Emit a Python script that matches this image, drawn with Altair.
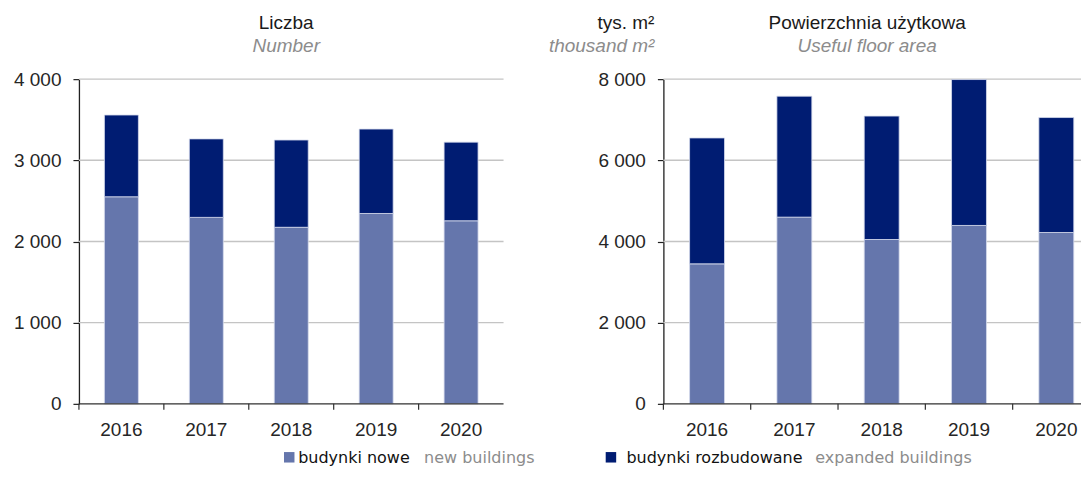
import altair as alt
import pandas as pd

# ---- data ----
years = ["2016", "2017", "2018", "2019", "2020"]
series_pl = ["budynki nowe", "budynki rozbudowane"]
series_en = ["new buildings", "expanded buildings"]
count_new = [2551, 2297, 2175, 2345, 2255]
count_expanded = [1007, 967, 1075, 1040, 969]
area_new = [3449, 4600, 4049, 4395, 4222]
area_expanded = [3102, 2980, 3041, 3595, 2832]
left_ticks = [0, 1000, 2000, 3000, 4000]
right_ticks = [0, 2000, 4000, 6000, 8000]
left_title = ["Liczba", "Number"]
right_title = ["Powierzchnia użytkowa", "Useful floor area"]
right_unit = ["tys. m²", "thousand m²"]

colors = ["#6576ac", "#001c72"]
FONT = "Liberation Sans"
LEG_FONT = "DejaVu Sans"
W_L, W_R, H = 425, 418, 325
RANGE_R = 437
LEG_Y = 384
T1, T2 = -50, -27


def frame(new, exp):
    rows = []
    for i, y in enumerate(years):
        rows.append({"rok": y, "seria": series_pl[0], "kolejnosc": 0, "wartosc": new[i]})
        rows.append({"rok": y, "seria": series_pl[1], "kolejnosc": 1, "wartosc": exp[i]})
    return pd.DataFrame(rows)


def text_layer(txt, x, y, size=19, color="#1a1a1a", italic=False, align="center", font=FONT):
    return alt.Chart(pd.DataFrame({"t": [txt]})).mark_text(
        font=font, fontSize=size, color=color, align=align, baseline="alphabetic",
        fontStyle="italic" if italic else "normal",
    ).encode(text="t:N", x=alt.value(x), y=alt.value(y))


def panel(df, ymax, ticks, width, xrange):
    xscale = alt.Scale(domain=years, paddingInner=0, paddingOuter=0, range=[0, xrange])
    yscale = alt.Scale(domain=[0, ymax], nice=False)
    yaxis = alt.Axis(title=None, values=ticks, grid=False,
                     labelExpr="replace(format(datum.value, ','), ',', ' ')",
                     tickSize=6, labelPadding=12, domainColor="#202020",
                     domainWidth=1.3, tickColor="#202020", tickWidth=1.2,
                     labelFont=FONT, labelFontSize=19, labelColor="#262626")
    grid = alt.Chart(pd.DataFrame({"wartosc": ticks[1:]})).mark_rule(
        color="#c4c4c4", strokeWidth=1.4
    ).encode(y=alt.Y("wartosc:Q", scale=yscale, axis=yaxis), x=alt.value(0), x2=alt.value(width))
    bars = alt.Chart(df).mark_bar(
        width=alt.RelativeBandSize(0.4), stroke="#d6dbec", strokeWidth=0.8
    ).encode(
        x=alt.X("rok:O", scale=xscale, sort=years, axis=None),
        y=alt.Y("wartosc:Q", stack="zero", scale=yscale, axis=yaxis),
        color=alt.Color("seria:N", scale=alt.Scale(domain=series_pl, range=colors), legend=None),
        order=alt.Order("kolejnosc:Q"),
    )
    tick_df = pd.DataFrame({"rok": years})
    xticks = alt.Chart(tick_df).mark_rule(color="#303030", strokeWidth=1.2).encode(
        x=alt.X("rok:O", scale=xscale, sort=years, axis=None, bandPosition=0),
        y=alt.value(H), y2=alt.value(H + 6),
    )
    xlabels = alt.Chart(tick_df).mark_text(
        font=FONT, fontSize=19, color="#262626", baseline="alphabetic", align="center"
    ).encode(
        x=alt.X("rok:O", scale=xscale, sort=years, axis=None, bandPosition=0.5),
        y=alt.value(H + 32), text="rok:N",
    )
    base = alt.Chart(pd.DataFrame({"k": [0]})).mark_rule(color="#303030", strokeWidth=1.3).encode(
        x=alt.value(0), x2=alt.value(width), y=alt.value(H)
    )
    return [grid, bars, base, xticks, xlabels]


dl = frame(count_new, count_expanded)
dr = frame(area_new, area_expanded)

left = alt.layer(
    *panel(dl, 4000, left_ticks, W_L, W_L),
    text_layer(left_title[0], 207.5, T1),
    text_layer(left_title[1], 207.5, T2, color="#8c8c8c", italic=True),
    alt.Chart(pd.DataFrame({"s": [series_pl[0]]})).mark_square(size=110, color=colors[0], opacity=1).encode(
        x=alt.value(210.5), y=alt.value(LEG_Y - 5.5)),
    text_layer(series_pl[0], 219.5, LEG_Y, size=16, color="#111111", align="left", font=LEG_FONT),
    text_layer(series_en[0], 345.5, LEG_Y, size=16, color="#8c8c8c", align="left", font=LEG_FONT),
).properties(width=W_L, height=H)

right = alt.layer(
    *panel(dr, 8000, right_ticks, W_R, RANGE_R),
    text_layer(right_title[0], 204, T1),
    text_layer(right_title[1], 204, T2, color="#8c8c8c", italic=True),
    text_layer(right_unit[0], -9, T1, align="right"),
    text_layer(right_unit[1], -9, T2, color="#8c8c8c", italic=True, align="right"),
    alt.Chart(pd.DataFrame({"s": [series_pl[1]]})).mark_square(size=110, color=colors[1], opacity=1).encode(
        x=alt.value(-52.5), y=alt.value(LEG_Y - 5.5)),
    text_layer(series_pl[1], -37, LEG_Y, size=16, color="#111111", align="left", font=LEG_FONT),
    text_layer(series_en[1], 152, LEG_Y, size=16, color="#8c8c8c", align="left", font=LEG_FONT),
).properties(width=W_R, height=H)

chart = alt.hconcat(left, right, spacing=13).properties(
    padding={"left": 5, "top": 6, "right": 0, "bottom": 0}
).configure_view(stroke=None)

chart.save("out.html", embed_options={"renderer": "svg", "actions": False})
